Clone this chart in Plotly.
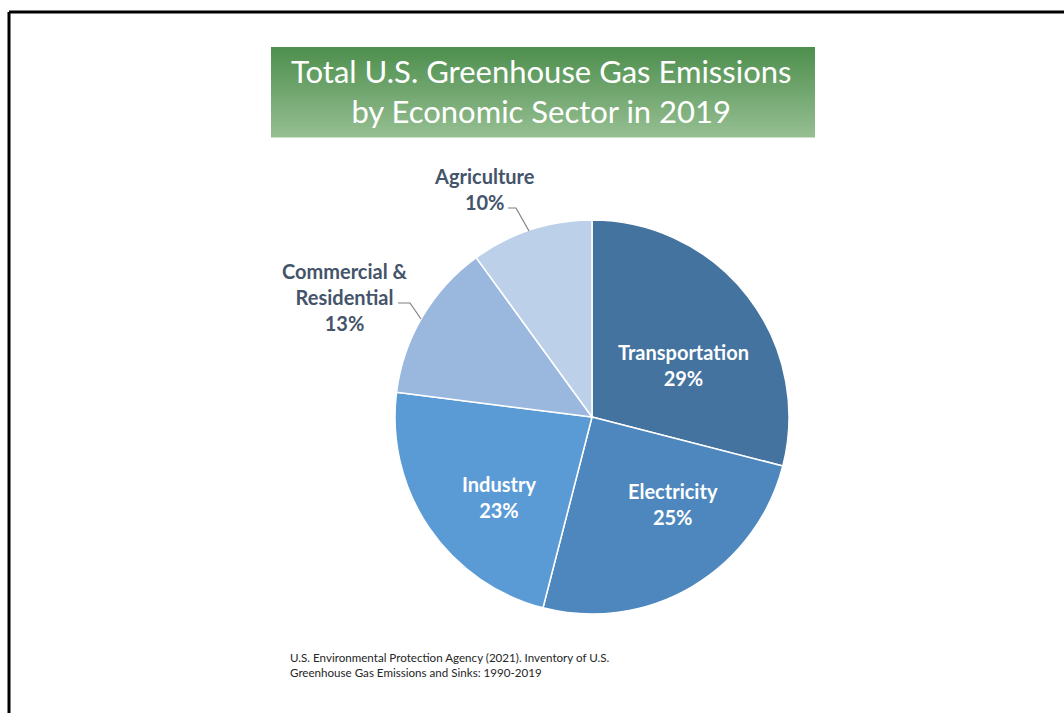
import plotly.graph_objects as go

W, H = 1064, 713

sectors = ["Transportation", "Electricity", "Industry", "Commercial &<br>Residential", "Agriculture"]
shares = [29, 25, 23, 13, 10]
colors = ["#44739f", "#4d87bd", "#5b9bd5", "#9ab7de", "#bdd0ea"]

title_lines = ["Total U.S. Greenhouse Gas Emissions", "by Economic Sector in 2019"]
source_lines = ["U.S. Environmental Protection Agency (2021). Inventory of U.S.",
                "Greenhouse Gas Emissions and Sinks: 1990-2019"]

FONT = "Lato"
LABEL_COLOR = "#44546a"


def px(x):
    return x / W


def py(y):
    return 1 - y / H


# pie geometry (pixels)
cx, cy, r = 592, 417, 197

fig = go.Figure()
fig.add_trace(go.Pie(
    labels=sectors,
    values=shares,
    sort=False,
    direction="clockwise",
    rotation=0,
    marker=dict(colors=colors, line=dict(color="white", width=1.5)),
    textinfo="none",
    hoverinfo="label+percent",
    showlegend=False,
    domain=dict(x=[px(cx - r), px(cx + r)], y=[py(cy + r), py(cy - r)]),
))

shapes = []
# frame
shapes.append(dict(type="line", xref="paper", yref="paper", x0=px(9), x1=px(1070),
                   y0=py(12), y1=py(12), line=dict(color="black", width=3)))
shapes.append(dict(type="line", xref="paper", yref="paper", x0=px(9), x1=px(9),
                   y0=py(12), y1=py(720), line=dict(color="black", width=3)))

# title box with vertical gradient
top_rgb = (78, 143, 78)
bot_rgb = (149, 190, 145)
bx0, bx1, by0, by1 = 271, 815, 47, 137
n = 45
for i in range(n):
    t = i / (n - 1)
    c = tuple(int(round(a + (b - a) * t)) for a, b in zip(top_rgb, bot_rgb))
    y0 = by0 + (by1 - by0) * i / n
    y1 = by0 + (by1 - by0) * (i + 1) / n
    shapes.append(dict(type="rect", xref="paper", yref="paper",
                       x0=px(bx0), x1=px(bx1), y0=py(y0), y1=py(y1 + 0.5),
                       fillcolor="rgb(%d,%d,%d)" % c, line=dict(width=0), layer="below"))

# leader lines
def path(points):
    d = "M " + " L ".join("%f,%f" % (px(x), py(y)) for x, y in points)
    return dict(type="path", xref="paper", yref="paper", path=d,
                line=dict(color="#7f7f7f", width=1.2))

shapes.append(path([(508, 208), (516, 208), (529, 231)]))
shapes.append(path([(398, 303), (410, 303), (421, 319)]))

annotations = []
annotations.append(dict(text="<br>".join(title_lines), x=px(541), y=py(91), xref="paper", yref="paper",
                        showarrow=False, xanchor="center", yanchor="middle",
                        font=dict(family=FONT, size=31, color="white")))

inside = [(683, 365), (673, 504), (499, 497)]
for i, (x, y) in enumerate(inside):
    annotations.append(dict(text="<b>%s<br>%d%%</b>" % (sectors[i], shares[i]), x=px(x), y=py(y),
                            xref="paper", yref="paper", showarrow=False,
                            xanchor="center", yanchor="middle",
                            font=dict(family=FONT, size=20, color="white")))

annotations.append(dict(text="<b>%s<br>%d%%</b>" % (sectors[4], shares[4]), x=px(484), y=py(189),
                        xref="paper", yref="paper", showarrow=False,
                        xanchor="center", yanchor="middle",
                        font=dict(family=FONT, size=20, color=LABEL_COLOR)))
annotations.append(dict(text="<b>%s<br>%d%%</b>" % (sectors[3], shares[3]), x=px(345), y=py(297),
                        xref="paper", yref="paper", showarrow=False,
                        xanchor="center", yanchor="middle",
                        font=dict(family=FONT, size=20, color=LABEL_COLOR)))

annotations.append(dict(text="<br>".join(source_lines), x=px(288), y=py(665),
                        xref="paper", yref="paper", showarrow=False,
                        xanchor="left", yanchor="middle", align="left",
                        font=dict(family=FONT, size=11.6, color="#262626")))

fig.update_layout(
    width=W, height=H,
    margin=dict(l=0, r=0, t=0, b=0),
    paper_bgcolor="white", plot_bgcolor="white",
    shapes=shapes, annotations=annotations,
)

fig.write_html("out.html")
